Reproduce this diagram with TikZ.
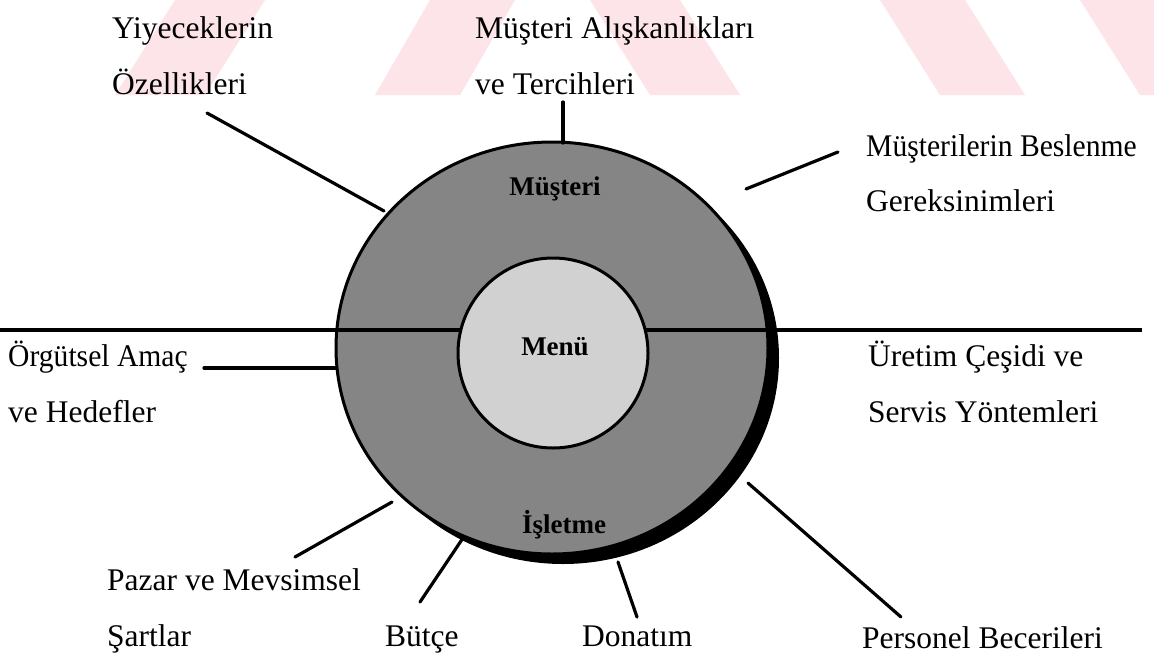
\documentclass[tikz,border=0pt]{standalone}
\usepackage{fontspec}
\setmainfont{Liberation Serif}
\definecolor{ringgray}{gray}{0.52}
\definecolor{coregray}{gray}{0.82}
\definecolor{wmpink}{RGB}{252,228,232}
\tikzset{
  lbl/.style={font=\fontsize{31.5}{38}\selectfont, inner sep=0pt, anchor=base west},
  inlbl/.style={font=\fontsize{27}{30}\selectfont\bfseries, inner sep=0pt, anchor=base},
  conn/.style={line width=3.2pt, line cap=round},
  rim/.style={line width=3pt}
}
\begin{document}
\begin{tikzpicture}[x=1pt,y=-1pt]
\useasboundingbox (0,0) rectangle (1154,657);
\fill[white] (0,0) rectangle (1154,657);

% faint watermark bands along the top edge
\begin{scope}
  \clip (0,0) rectangle (1154,95);
  \fill[wmpink] (175,0) -- (265,0) -- (205,95) -- (115,95) -- cycle;
  \fill[wmpink] (430,0) -- (515,0) -- (460,95) -- (375,95) -- cycle;
  \fill[wmpink] (590,0) -- (680,0) -- (740,95) -- (650,95) -- cycle;
  \fill[wmpink] (880,0) -- (965,0) -- (1025,95) -- (940,95) -- cycle;
  \fill[wmpink] (1080,0) -- (1154,0) -- (1154,95) -- (1140,95) -- cycle;
\end{scope}

% ring with its drop shadow
\coordinate (ringc) at (552,348);
\coordinate (shadc) at (563,358);
\coordinate (corec) at (553,353);
\fill[black] (shadc) ellipse [x radius=216pt, y radius=206pt];
\filldraw[fill=ringgray, rim] (ringc) ellipse [x radius=216pt, y radius=206pt];

% dividing line through the ring
\coordinate (hl) at (0,330);
\coordinate (hr) at (1142,330);
\draw[conn, line cap=butt] (hl) -- (hr);

% core
\filldraw[fill=coregray, rim] (corec) circle [radius=95pt];

% labels inside the ring
\node[inlbl] (musteri) at (555,195) {Müşteri};
\node[inlbl] (menu) at (555,355) {Menü};
\node[inlbl] (isletme) at (564,533) {İşletme};

% outer labels
\node[lbl] (yiy1) at (112,38) {Yiyeceklerin};
\node[lbl] (yiy2) at (112,94) {Özellikleri};
\node[lbl] (mal1) at (475,38) {Müşteri Alışkanlıkları};
\node[lbl] (mal2) at (475,94) {ve Tercihleri};
\node[lbl] (mbg1) at (866,156) {\scalebox{0.94}[1]{Müşterilerin Beslenme}};
\node[lbl] (mbg2) at (866,211) {Gereksinimleri};
\node[lbl] (org1) at (8,366) {\scalebox{0.94}[1]{Örgütsel Amaç}};
\node[lbl] (org2) at (8,422) {ve Hedefler};
\node[lbl] (ure1) at (868,366) {Üretim Çeşidi ve};
\node[lbl] (ure2) at (868,422) {Servis Yöntemleri};
\node[lbl] (paz1) at (107,590) {Pazar ve Mevsimsel};
\node[lbl] (paz2) at (107,646) {Şartlar};
\node[lbl] (butce) at (385,646) {Bütçe};
\node[lbl] (donatim) at (582,646) {Donatım};
\node[lbl] (personel) at (862,648) {Personel Becerileri};

% connector end points
\coordinate (yiyS) at (207,113);  \coordinate (yiyE) at (384,211);
\coordinate (malS) at (563,102);  \coordinate (malE) at (563,143);
\coordinate (mbgS) at (838,152);  \coordinate (mbgE) at (746,189);
\coordinate (orgS) at (204,368);  \coordinate (orgE) at (336,368);
\coordinate (pazS) at (295,557);  \coordinate (pazE) at (392,502);
\coordinate (butS) at (420,602);  \coordinate (butE) at (463,538);
\coordinate (donS) at (637,617);  \coordinate (donE) at (618,562);
\coordinate (perS) at (901,617);  \coordinate (perE) at (748,483);

\draw[conn] (yiyS) -- (yiyE);
\draw[conn] (malS) -- (malE);
\draw[conn] (mbgS) -- (mbgE);
\draw[conn] (orgS) -- (orgE);
\draw[conn] (pazS) -- (pazE);
\draw[conn] (butS) -- (butE);
\draw[conn] (donS) -- (donE);
\draw[conn] (perS) -- (perE);
\end{tikzpicture}
\end{document}
